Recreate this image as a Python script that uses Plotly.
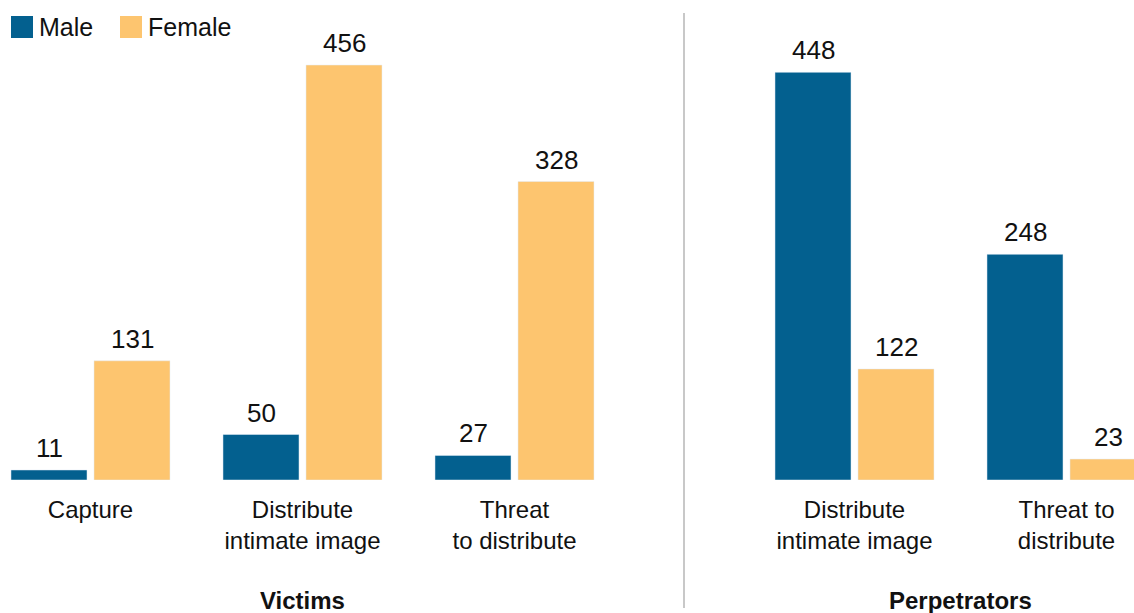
import plotly.graph_objects as go

victim_categories = ["Capture", "Distribute<br>intimate image", "Threat<br>to distribute"]
victim_male = [11, 50, 27]
victim_female = [131, 456, 328]

perp_categories = ["Distribute<br>intimate image", "Threat to<br>distribute"]
perp_male = [448, 248]
perp_female = [122, 23]

series_names = ["Male", "Female"]
colors = {"Male": "#03608F", "Female": "#FDC56F"}
panel_titles = ["Victims", "Perpetrators"]

FONT = "Liberation Sans, Arial, sans-serif"
TXT = "#111111"
W, H = 1134, 613
T, B = 25, 133
PH = H - T - B
split_px = 684
split = split_px / W


def py(pix):
    """pixel row -> paper y"""
    return (H - B - pix) / PH


fig = go.Figure()

panels = [
    (victim_categories, {"Male": victim_male, "Female": victim_female}, "x", "y"),
    (perp_categories, {"Male": perp_male, "Female": perp_female}, "x2", "y2"),
]
slot = 83.0  # px between bar centres within a group
for cats, vals, xa, ya in panels:
    for i, name in enumerate(series_names):
        fig.add_trace(go.Bar(
            x=cats, y=vals[name], name=name, marker_color=colors[name],
            showlegend=False, xaxis=xa, yaxis=ya, hoverinfo="skip",
        ))
        shift = (i - 0.5) * slot
        for c, v in zip(cats, vals[name]):
            fig.add_annotation(x=c, y=v, xref=xa, yref=ya, text=str(v),
                               showarrow=False, yanchor="bottom", xshift=shift,
                               yshift=5, font=dict(family=FONT, size=26, color=TXT))

cat_w = 212.0
left_c0 = 90.5
right_c0 = 854.5
tick_font = dict(family=FONT, size=24, color=TXT)
fig.update_layout(
    width=W, height=H,
    margin=dict(l=0, r=0, t=T, b=B),
    paper_bgcolor="white", plot_bgcolor="white",
    barmode="group", bargap=0.217, bargroupgap=0.084,
    font=dict(family=FONT, size=24, color=TXT),
    showlegend=False,
    xaxis=dict(domain=[0, split],
               range=[-left_c0 / cat_w, (split_px - left_c0) / cat_w],
               showgrid=False, zeroline=False, showline=False, ticks="",
               ticklabelstandoff=13, tickfont=tick_font),
    yaxis=dict(domain=[0, 1], range=[0, 500], visible=False),
    xaxis2=dict(domain=[split, 1], anchor="y2",
                range=[-(right_c0 - split_px) / cat_w, (W - right_c0) / cat_w],
                showgrid=False, zeroline=False, showline=False, ticks="",
                ticklabelstandoff=13, tickfont=tick_font),
    yaxis2=dict(domain=[0, 1], range=[0, 500], visible=False, anchor="x2"),
)

# legend (drawn manually for large square swatches)
legend_x = [11, 120]
for name, lx in zip(series_names, legend_x):
    fig.add_shape(type="rect", xref="paper", yref="paper",
                  x0=lx / W, x1=(lx + 22) / W, y0=py(38), y1=py(16),
                  fillcolor=colors[name], line=dict(width=0))
    fig.add_annotation(x=(lx + 26) / W, y=py(27), xref="paper", yref="paper",
                       text=name, showarrow=False, xanchor="left", yanchor="middle",
                       font=dict(family=FONT, size=25, color=TXT))

# panel titles
title_y = py(600)
fig.add_annotation(x=1, y=title_y, xref="x", yref="paper", text=f"<b>{panel_titles[0]}</b>",
                   showarrow=False, yanchor="middle", font=dict(family=FONT, size=24, color=TXT))
fig.add_annotation(x=0.5, y=title_y, xref="x2", yref="paper", text=f"<b>{panel_titles[1]}</b>",
                   showarrow=False, yanchor="middle", font=dict(family=FONT, size=24, color=TXT))

# divider
fig.add_shape(type="line", xref="paper", yref="paper",
              x0=split, x1=split, y0=py(13), y1=py(608),
              line=dict(color="#C8C8C8", width=2))

fig.write_html("out.html")
